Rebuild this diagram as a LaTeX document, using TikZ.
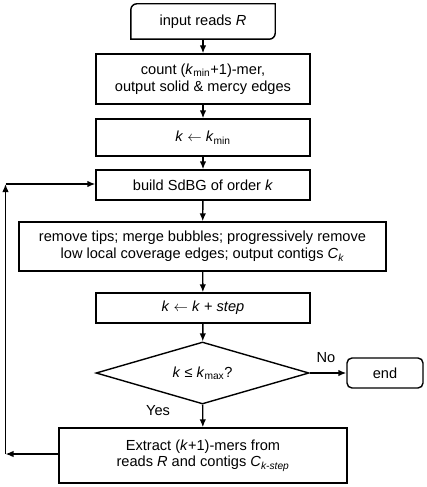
\documentclass[tikz,border=0pt]{standalone}
\usepackage{fontspec}
\setmainfont{Liberation Sans}
\usetikzlibrary{arrows.meta,shapes.geometric}
\newcommand{\myassign}{\ensuremath{\leftarrow}}
\begin{document}
\begin{tikzpicture}[x=1pt,y=-1pt,
  every node/.style={font=\fontsize{14.6}{16.8}\selectfont, align=center, inner sep=0pt},
  box/.style={draw, line width=1.4pt, minimum width=#1},
  cond/.style={draw, line width=1.4pt, diamond, aspect=3.43, minimum width=213pt, minimum height=62pt},
  arr/.style={line width=1.4pt, -{Latex[length=8pt,width=6.5pt]}},
  lbl/.style={font=\fontsize{14.6}{16.8}\selectfont}]
\useasboundingbox (0,0) rectangle (426,487);
\node (inp) [minimum width=144pt, minimum height=35pt] at (203,21.5) {input reads \textit{R}};
\draw[line width=1.4pt] (inp.north) [rounded corners=6pt] -- (inp.north west) -- (inp.west) [sharp corners] -- (inp.south west) -- (inp.south) [rounded corners=6pt] -- (inp.south east) -- (inp.east) [sharp corners] -- (inp.north east) -- cycle;
\node (cnt) [box=214pt, minimum height=50pt] at (203,79) {count (\textit{k}\textsubscript{min}+1)-mer,\\output solid \& mercy edges};
\node (kmin) [box=214pt, minimum height=37pt] at (203,137.5) {\textit{k} \myassign{} \textit{k}\textsubscript{min}};
\node (sdbg) [box=214pt, minimum height=30pt] at (203,185) {build SdBG of order \textit{k}};
\node (rem) [box=367pt, minimum height=49pt] at (202.5,246.5) {remove tips; merge bubbles; progressively remove\\low local coverage edges; output contigs \textit{C}\textsubscript{\textit{k}}};
\node (stp) [box=214pt, minimum height=30pt] at (203,308) {\textit{k} \myassign{} \textit{k} + \textit{step}};
\node (dec) [cond] at (202.5,373) {\textit{k} ≤ \textit{k}\textsubscript{max}?};
\node (fin) [draw, line width=1.4pt, rounded corners=5pt, minimum width=76pt, minimum height=30pt] at (385,373) {end};
\node (ext) [box=288pt, minimum height=55pt] at (203,455.5) {Extract (\textit{k}+1)-mers from\\reads \textit{R} and contigs \textit{C}\textsubscript{\textit{k-step}}};
\node (no) [lbl] at (326,358) {No};
\node (yes) [lbl] at (158,411) {Yes};
\coordinate (lb) at (5.5,454);
\coordinate (lt) at (5.5,184);
\draw[arr] (inp) -- (cnt);
\draw[arr] (cnt) -- (kmin);
\draw[arr] (kmin) -- (sdbg);
\draw[arr] (sdbg) -- (rem);
\draw[arr] (rem) -- (stp);
\draw[arr] (stp) -- (dec);
\draw[arr] (dec) -- (fin);
\draw[arr] (dec) -- (ext);
\draw[arr] (ext.west |- lb) -- (lb);
\draw[arr] (lb) -- (lt);
\draw[arr] (lt) -- (lt -| sdbg.west);
\end{tikzpicture}
\end{document}
